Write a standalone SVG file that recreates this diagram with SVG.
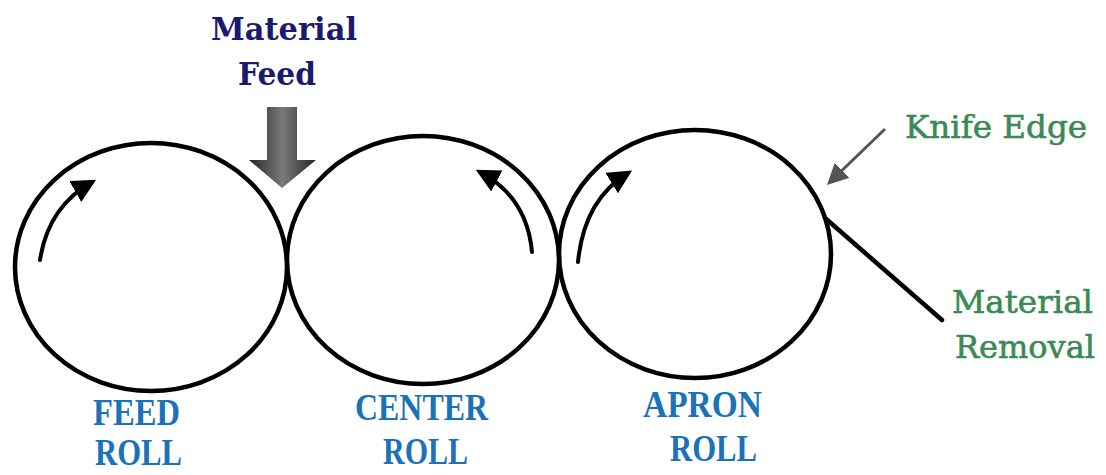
<svg xmlns="http://www.w3.org/2000/svg" width="1106" height="475" viewBox="0 0 1106 475">
  <style>
    .roll { fill: none; stroke: #000; stroke-width: 4.5; }
    .rot { fill: none; stroke: #000; stroke-width: 4; stroke-linecap: round; }
    .lbl { font-family: "Liberation Serif", "DejaVu Serif", serif; font-weight: bold; font-size: 37px; fill: #1a72b8; }
    .green { font-family: "DejaVu Serif", "Liberation Serif", serif; font-size: 31px; fill: #3a8a55; stroke: #3a8a55; stroke-width: 0.6; }
    .navy { font-family: "DejaVu Serif", "Liberation Serif", serif; font-weight: bold; font-size: 31px; fill: #1b1b6e; }
  </style>
  <defs>
    <marker id="blk" viewBox="0 0 10 10" refX="8" refY="5" markerWidth="6" markerHeight="6" markerUnits="strokeWidth" orient="auto">
      <path d="M0,0 L10,5 L0,10 Z" fill="#000"/>
    </marker>
    <marker id="gry" viewBox="0 0 10 10" refX="8" refY="5" markerWidth="7" markerHeight="7" markerUnits="strokeWidth" orient="auto">
      <path d="M0,0 L10,5 L0,10 Z" fill="#555"/>
    </marker>
    <linearGradient id="feedGrad" x1="0" y1="0" x2="1" y2="0">
      <stop offset="0" stop-color="#262626"/>
      <stop offset="0.5" stop-color="#7a7a7a"/>
      <stop offset="1" stop-color="#262626"/>
    </linearGradient>
  </defs>
  <rect width="1106" height="475" fill="#fff"/>

  <g id="feed-roll">
    <ellipse class="roll" cx="151" cy="267" rx="136" ry="124"/>
    <text class="lbl" x="93" y="425" textLength="87" lengthAdjust="spacingAndGlyphs">FEED</text>
    <text class="lbl" x="95" y="465" textLength="87" lengthAdjust="spacingAndGlyphs">ROLL</text>
  </g>

  <g id="center-roll">
    <ellipse class="roll" cx="423" cy="260" rx="136" ry="124"/>
    <text class="lbl" x="355" y="420" textLength="133" lengthAdjust="spacingAndGlyphs">CENTER</text>
    <text class="lbl" x="383" y="464" textLength="85" lengthAdjust="spacingAndGlyphs">ROLL</text>
  </g>

  <g id="apron-roll">
    <ellipse class="roll" cx="695" cy="254" rx="136" ry="124"/>
    <text class="lbl" x="643" y="417" textLength="119" lengthAdjust="spacingAndGlyphs">APRON</text>
    <text class="lbl" x="670" y="461" textLength="87" lengthAdjust="spacingAndGlyphs">ROLL</text>
  </g>

  <g id="material-feed">
    <text class="navy" x="211" y="40" textLength="146" lengthAdjust="spacingAndGlyphs">Material</text>
    <text class="navy" x="238" y="85" textLength="78" lengthAdjust="spacingAndGlyphs">Feed</text>
    <path d="M267,107 L297,107 L297,160 L316,160 L282,188 L249,160 L267,160 Z" fill="url(#feedGrad)"/>
  </g>

  <g id="knife-edge">
    <text class="green" x="905" y="138" textLength="182" lengthAdjust="spacingAndGlyphs">Knife Edge</text>
  </g>

  <g id="material-removal">
    <text class="green" x="952" y="313" textLength="141" lengthAdjust="spacingAndGlyphs">Material</text>
    <text class="green" x="955" y="358" textLength="140" lengthAdjust="spacingAndGlyphs">Removal</text>
  </g>

  <g id="connectors">
    <path class="rot" d="M40,260 Q48,207 92,182" marker-end="url(#blk)"/>
    <path class="rot" d="M532,252 Q527,197 480,172" marker-end="url(#blk)"/>
    <path class="rot" d="M578,262 Q584,200 628,173" marker-end="url(#blk)"/>
    <line x1="885" y1="129" x2="830" y2="182" stroke="#555" stroke-width="3" marker-end="url(#gry)"/>
    <line x1="825" y1="218" x2="942" y2="320" stroke="#000" stroke-width="4.5" stroke-linecap="round"/>
  </g>
</svg>
